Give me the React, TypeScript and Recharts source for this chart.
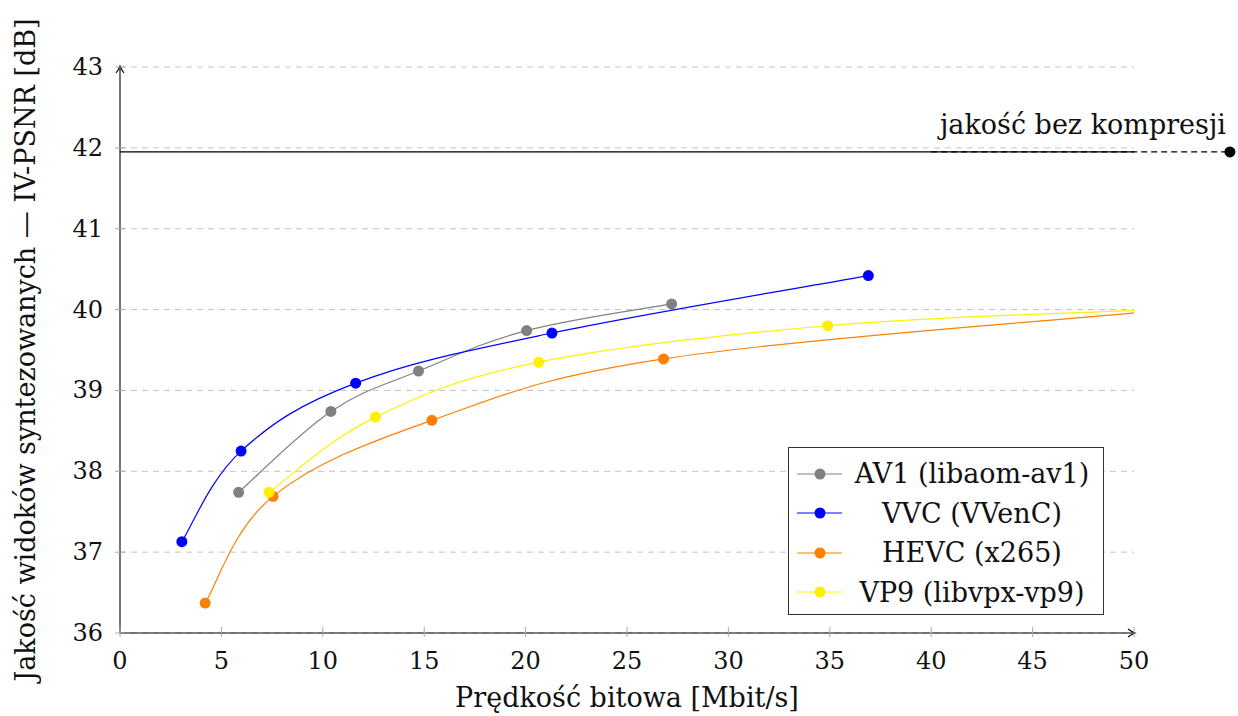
import React from 'react'
import { LineChart, Line, XAxis, YAxis, CartesianGrid, ReferenceLine, ReferenceDot, Label } from 'recharts'

const FONT = '"DejaVu Serif", serif'

// measured points (bitrate Mbit/s, IV-PSNR dB)
const av1 = [
  { x: 5.85, y: 37.74 },
  { x: 10.4, y: 38.74 },
  { x: 14.72, y: 39.24 },
  { x: 20.05, y: 39.74 },
  { x: 27.2, y: 40.07 },
]
const vvc = [
  { x: 3.05, y: 37.13 },
  { x: 5.97, y: 38.25 },
  { x: 11.62, y: 39.09 },
  { x: 21.3, y: 39.71 },
  { x: 36.9, y: 40.42 },
]
const hevc = [
  { x: 4.2, y: 36.37 },
  { x: 7.55, y: 37.69 },
  { x: 15.38, y: 38.63 },
  { x: 26.8, y: 39.39 },
]
const vp9 = [
  { x: 7.35, y: 37.74 },
  { x: 12.6, y: 38.67 },
  { x: 20.65, y: 39.35 },
  { x: 34.9, y: 39.8 },
]
// where the curves leave the plot on the right edge
const hevcTail = { x: 50, y: 39.96 }
const vp9Tail = { x: 50, y: 39.99 }

const uncompressed = 41.95
const uncompressedX = 54.73

const xTicks = [0, 5, 10, 15, 20, 25, 30, 35, 40, 45, 50]
const yTicks = [36, 37, 38, 39, 40, 41, 42, 43]

const series = [
  { name: 'AV1 (libaom-av1)', color: '#808080', points: av1, tail: [] as { x: number; y: number }[] },
  { name: 'VVC (VVenC)', color: '#0000ff', points: vvc, tail: [] },
  { name: 'HEVC (x265)', color: '#ff8000', points: hevc, tail: [hevcTail] },
  { name: 'VP9 (libvpx-vp9)', color: '#fff000', points: vp9, tail: [vp9Tail] },
]

// cardinal-style smoothing, closer to tikz "smooth" than monotone
const TENSION = 0.18
function smoothCurve(context: any) {
  let pts: number[][] = []
  return {
    areaStart() {},
    areaEnd() {},
    lineStart() {
      pts = []
    },
    point(x: number, y: number) {
      pts.push([+x, +y])
    },
    lineEnd() {
      const n = pts.length
      if (!n) return
      context.moveTo(pts[0][0], pts[0][1])
      for (let i = 0; i < n - 1; i++) {
        const p0 = pts[i - 1] || pts[i]
        const p1 = pts[i]
        const p2 = pts[i + 1]
        const p3 = pts[i + 2] || pts[i + 1]
        context.bezierCurveTo(
          p1[0] + TENSION * (p2[0] - p0[0]),
          p1[1] + TENSION * (p2[1] - p0[1]),
          p2[0] - TENSION * (p3[0] - p1[0]),
          p2[1] - TENSION * (p3[1] - p1[1]),
          p2[0],
          p2[1],
        )
      }
    },
  }
}

const makeDot = (color: string, n: number) => (props: any) => {
  const { cx, cy, index } = props
  if (index >= n) return <g key={`e-${index}`} />
  return <circle key={`d-${index}`} cx={cx} cy={cy} r={5.5} fill={color} stroke="none" />
}

const XTick = ({ x, y, payload }: any) => (
  <g>
    <line x1={x} x2={x} y1={y - 6} y2={y + 4} stroke="#aaa" />
    <text x={x} y={y + 28} textAnchor="middle" dominantBaseline="central" fontFamily={FONT} fontSize={24} fill="#111">
      {payload.value}
    </text>
  </g>
)

const YTick = ({ x, y, payload }: any) => (
  <g>
    <line x1={x - 5} x2={x + 5} y1={y} y2={y} stroke="#aaa" />
    <text x={x - 17} y={y} textAnchor="end" dominantBaseline="central" fontFamily={FONT} fontSize={24} fill="#111">
      {payload.value}
    </text>
  </g>
)

const ArrowRight = ({ cx, cy }: any) => (
  <path d={`M${cx - 6} ${cy - 4} Q${cx - 2} ${cy - 1} ${cx + 1} ${cy} Q${cx - 2} ${cy + 1} ${cx - 6} ${cy + 4}`} stroke="#000" fill="none" strokeWidth={1.1} />
)
const ArrowUp = ({ cx, cy }: any) => (
  <path d={`M${cx - 4} ${cy + 6} Q${cx - 1} ${cy + 2} ${cx} ${cy - 1} Q${cx + 1} ${cy + 2} ${cx + 4} ${cy + 6}`} stroke="#000" fill="none" strokeWidth={1.1} />
)

const UncompressedMark = ({ cx, cy }: any) => (
  <g>
    <circle cx={cx} cy={cy} r={5.5} fill="#000" />
    <text x={cx - 4} y={cy - 18} textAnchor="end" fontFamily={FONT} fontSize={27} fill="#111">
      jakość bez kompresji
    </text>
  </g>
)

function ChartLegend() {
  return (
    <div
      style={{
        position: 'absolute',
        left: 788,
        top: 447,
        width: 314,
        height: 160,
        border: '1px solid #333',
        background: '#fff',
        boxSizing: 'content-box',
        paddingTop: 6,
        fontFamily: FONT,
        fontSize: 27,
        color: '#111',
      }}
    >
      {series.map((s) => (
        <div key={s.name} style={{ display: 'flex', alignItems: 'center', height: 39.5 }}>
          <svg width={56} height={20} style={{ flex: 'none' }}>
            <line x1={8} x2={53} y1={10} y2={10} stroke={s.color} strokeWidth={1.2} />
            <circle cx={31} cy={10} r={5.5} fill={s.color} />
          </svg>
          <div style={{ flex: 1, textAlign: 'center', whiteSpace: 'nowrap', paddingRight: 4 }}>{s.name}</div>
        </div>
      ))}
    </div>
  )
}

export default function App() {
  return (
    <div style={{ position: 'absolute', left: 0, top: 0, width: 1238, height: 716, background: '#fff', fontFamily: FONT }}>
      <LineChart width={1238} height={716} margin={{ top: 67, right: 104, bottom: 0, left: 0 }}>
        <CartesianGrid stroke="#c4c4c4" strokeDasharray="6 5" vertical={false} />
        <XAxis
          type="number"
          dataKey="x"
          domain={[0, 50]}
          ticks={xTicks}
          allowDataOverflow
          height={83}
          tickSize={0}
          tickMargin={0}
          tickLine={false}
          axisLine={{ stroke: '#000', strokeWidth: 1.1 }}
          tick={<XTick />}
          interval={0}
        >
          <Label
            content={({ viewBox }: any) => (
              <text x={viewBox.x + viewBox.width / 2} y={viewBox.y + 64} textAnchor="middle" dominantBaseline="central" fontFamily={FONT} fontSize={27} fill="#111">
                Prędkość bitowa [Mbit/s]
              </text>
            )}
          />
        </XAxis>
        <YAxis
          type="number"
          domain={[36, 43]}
          ticks={yTicks}
          allowDataOverflow
          width={120}
          tickSize={0}
          tickMargin={0}
          tickLine={false}
          axisLine={{ stroke: '#000', strokeWidth: 1.1 }}
          tick={<YTick />}
          interval={0}
        >
          <Label
            content={({ viewBox }: any) => {
              const cx = viewBox.x + 25
              const cy = viewBox.y + viewBox.height / 2
              return (
                <text x={cx} y={cy} transform={`rotate(-90 ${cx} ${cy})`} textAnchor="middle" dominantBaseline="central" fontFamily={FONT} fontSize={27} fill="#111">
                  Jakość widoków syntezowanych — IV-PSNR [dB]
                </text>
              )
            }}
          />
        </YAxis>
        <ReferenceLine
          segment={[{ x: 0, y: uncompressed }, { x: 50, y: uncompressed }]}
          stroke="#000"
          strokeWidth={1.1}
          ifOverflow="visible"
        />
        <ReferenceLine
          segment={[{ x: 40, y: uncompressed }, { x: uncompressedX, y: uncompressed }]}
          stroke="#000"
          strokeWidth={1.1}
          strokeDasharray="6 4"
          ifOverflow="visible"
        />
        {series.map((s) => (
          <Line
            key={s.name}
            data={[...s.points, ...s.tail]}
            dataKey="y"
            type={smoothCurve as any}
            stroke={s.color}
            strokeWidth={1.2}
            dot={makeDot(s.color, s.points.length)}
            activeDot={false}
            isAnimationActive={false}
          />
        ))}
        <ReferenceDot x={uncompressedX} y={uncompressed} ifOverflow="visible" shape={<UncompressedMark />} />
        <ReferenceDot x={50} y={36} ifOverflow="visible" shape={<ArrowRight />} />
        <ReferenceDot x={0} y={43} ifOverflow="visible" shape={<ArrowUp />} />
      </LineChart>
      <ChartLegend />
    </div>
  )
}
